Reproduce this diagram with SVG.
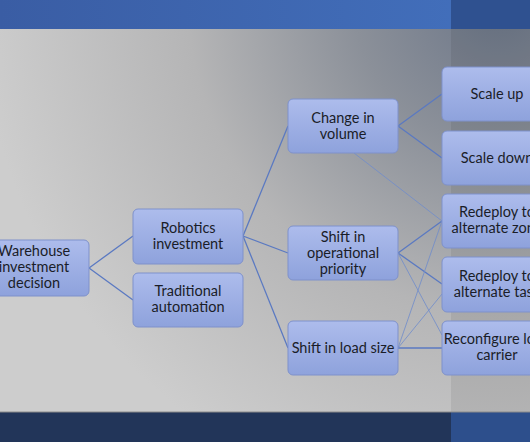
<svg xmlns="http://www.w3.org/2000/svg" width="530" height="442" viewBox="0 0 530 442">
<defs>
<linearGradient id="topband" x1="0" y1="0" x2="1" y2="0">
<stop offset="0" stop-color="#3a5da4"/>
<stop offset="1" stop-color="#4371be"/>
</linearGradient>
<radialGradient id="bg" cx="500" cy="0" r="520" gradientUnits="userSpaceOnUse">
<stop offset="0" stop-color="#6c7688"/>
<stop offset="0.28" stop-color="#8b9099"/>
<stop offset="0.6" stop-color="#b5b5b6"/>
<stop offset="1" stop-color="#cdcdcd"/>
</radialGradient>
<linearGradient id="nodefill" x1="0" y1="0" x2="0" y2="1">
<stop offset="0" stop-color="#adbcec"/>
<stop offset="1" stop-color="#8ea2dc"/>
</linearGradient>
<style>
.node rect{fill:url(#nodefill);stroke:#7e91cb;stroke-width:1}
.node text{font-family:Lato,"Liberation Sans",sans-serif;font-size:14.5px;fill:#1a1d28;text-anchor:middle}
.edge{stroke:#5a79c2;stroke-width:1.3;fill:none}
.thin{stroke:#6f8bcc;stroke-width:0.8;fill:none}
</style>
</defs>
<g id="background">
<rect x="0" y="0" width="530" height="442" fill="url(#bg)"/>
<rect x="451" y="29" width="79" height="383" fill="#000" fill-opacity="0.07"/>
<rect x="0" y="0" width="530" height="29" fill="url(#topband)"/>
<rect x="451" y="0" width="79" height="29" fill="#2f5190"/>
<rect x="0" y="412" width="530" height="30" fill="#223559"/>
<rect x="451" y="412" width="79" height="30" fill="#2d4f8c"/>
<line x1="0" y1="412" x2="530" y2="412" stroke="#8a8a8a" stroke-width="1"/>
</g>
<g id="connectors">
<line class="edge" x1="89" y1="268" x2="133" y2="236"/>
<line class="edge" x1="89" y1="268" x2="133" y2="300"/>
<line class="edge" x1="243" y1="236" x2="288" y2="126"/>
<line class="edge" x1="243" y1="236" x2="288" y2="253"/>
<line class="edge" x1="243" y1="236" x2="288" y2="348"/>
<line class="edge" x1="398" y1="126" x2="442" y2="94"/>
<line class="edge" x1="398" y1="126" x2="442" y2="158"/>
<line class="thin" x1="354" y1="153" x2="442" y2="221"/>
<line class="edge" x1="398" y1="253" x2="442" y2="221"/>
<line class="edge" x1="398" y1="253" x2="442" y2="284"/>
<line class="thin" x1="398" y1="253" x2="442" y2="335"/>
<line class="edge" x1="398" y1="348" x2="442" y2="348"/>
<line class="thin" x1="398" y1="348" x2="442" y2="221"/>
<line class="thin" x1="398" y1="348" x2="442" y2="294"/>
</g>
<g id="n-warehouse" class="node">
<rect x="-21" y="240" width="110" height="56" rx="5"/>
<text x="34" y="256">Warehouse</text>
<text x="34" y="272">investment</text>
<text x="34" y="288">decision</text>
</g>
<g id="n-robotics" class="node">
<rect x="133" y="209" width="110" height="55" rx="5"/>
<text x="188" y="233">Robotics</text>
<text x="188" y="249">investment</text>
</g>
<g id="n-traditional" class="node">
<rect x="133" y="273" width="110" height="54" rx="5"/>
<text x="188" y="296">Traditional</text>
<text x="188" y="312">automation</text>
</g>
<g id="n-volume" class="node">
<rect x="288" y="99" width="110" height="54" rx="5"/>
<text x="343" y="123">Change in</text>
<text x="343" y="139">volume</text>
</g>
<g id="n-priority" class="node">
<rect x="288" y="226" width="110" height="54" rx="5"/>
<text x="343" y="242">Shift in</text>
<text x="343" y="258">operational</text>
<text x="343" y="274">priority</text>
</g>
<g id="n-load" class="node">
<rect x="288" y="321" width="110" height="54" rx="5"/>
<text x="343" y="352.5">Shift in load size</text>
</g>
<g id="n-scaleup" class="node">
<rect x="442" y="67" width="110" height="54" rx="5"/>
<text x="497" y="98.5">Scale up</text>
</g>
<g id="n-scaledown" class="node">
<rect x="442" y="131" width="110" height="54" rx="5"/>
<text x="497" y="162.5">Scale down</text>
</g>
<g id="n-zone" class="node">
<rect x="442" y="194" width="110" height="54" rx="5"/>
<text x="497" y="217">Redeploy to</text>
<text x="497" y="233">alternate zone</text>
</g>
<g id="n-task" class="node">
<rect x="442" y="257" width="110" height="55" rx="5"/>
<text x="497" y="280.5">Redeploy to</text>
<text x="497" y="296.5">alternate task</text>
</g>
<g id="n-reconfigure" class="node">
<rect x="442" y="321" width="110" height="54" rx="5"/>
<text x="497" y="344">Reconfigure load</text>
<text x="497" y="360">carrier</text>
</g>
</svg>
